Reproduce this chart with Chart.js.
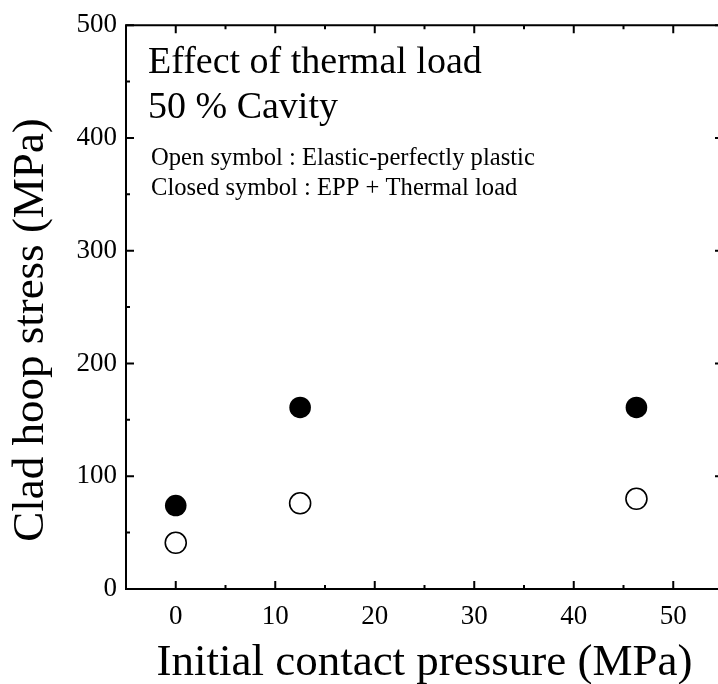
<!DOCTYPE html>
<html>
<head>
<meta charset="utf-8">
<script src="https://cdn.jsdelivr.net/npm/chart.js@4/dist/chart.umd.min.js"></script>
<style>
  html, body { margin: 0; padding: 0; background: #fff; overflow: hidden; }
  #wrap { width: 724px; height: 684px; }
</style>
</head>
<body>
<div id="wrap"><canvas id="c" width="724" height="684"></canvas></div>
<script>
// Initial contact pressure (MPa) of each case
const pressure = [0, 12.5, 46.3];
// Clad hoop stress (MPa), elastic-perfectly plastic model (open symbols)
const eppStress = [41, 76, 80];
// Clad hoop stress (MPa), EPP + thermal load (closed symbols)
const thermalStress = [74, 161, 161];

const xTickLabels = [0, 10, 20, 30, 40, 50];
const yTickLabels = [0, 100, 200, 300, 400, 500];

const FONT = '"Liberation Serif", "Times New Roman", Times, serif';

const toPoints = ys => pressure.map((x, i) => ({ x: x, y: ys[i] }));

// Frame, inward tick marks on all four sides, axis titles and notes
const framePlugin = {
  id: 'frame',
  afterDraw(chart) {
    const { ctx, chartArea: a, scales } = chart;
    const xs = scales.x, ys = scales.y;
    ctx.save();
    ctx.strokeStyle = '#000';
    ctx.lineWidth = 2;
    ctx.beginPath();
    ctx.rect(a.left, a.top, a.right - a.left, a.bottom - a.top);
    ctx.stroke();

    ctx.beginPath();
    for (let v = -5; v <= 55; v += 5) {
      const px = xs.getPixelForValue(v);
      const len = xTickLabels.includes(v) ? 8 : 4;
      ctx.moveTo(px, a.bottom); ctx.lineTo(px, a.bottom - len);
      ctx.moveTo(px, a.top); ctx.lineTo(px, a.top + len);
    }
    for (let v = 0; v <= 500; v += 50) {
      const py = ys.getPixelForValue(v);
      const len = yTickLabels.includes(v) ? 8 : 4;
      ctx.moveTo(a.left, py); ctx.lineTo(a.left + len, py);
      ctx.moveTo(a.right, py); ctx.lineTo(a.right - len, py);
    }
    ctx.stroke();

    ctx.fillStyle = '#000';
    ctx.textBaseline = 'alphabetic';
    ctx.textAlign = 'left';
    ctx.font = '38px ' + FONT;
    ctx.fillText('Effect of thermal load', 148, 73);
    ctx.fillText('50 % Cavity', 148, 118);
    ctx.font = '24.6px ' + FONT;
    ctx.fillText('Open symbol : Elastic-perfectly plastic', 151, 165);
    ctx.fillText('Closed symbol : EPP + Thermal load', 151, 195);

    ctx.textAlign = 'center';
    ctx.font = '45px ' + FONT;
    ctx.fillText('Initial contact pressure (MPa)', (a.left + a.right) / 2, 675);

    ctx.translate(43, 330);
    ctx.rotate(-Math.PI / 2);
    ctx.font = '45px ' + FONT;
    ctx.fillText('Clad hoop stress (MPa)', 0, 0);
    ctx.restore();
  }
};

new Chart(document.getElementById('c'), {
  type: 'scatter',
  data: {
    datasets: [
      {
        label: 'Elastic-perfectly plastic',
        data: toPoints(eppStress),
        pointRadius: 10.5,
        pointBackgroundColor: '#fff',
        pointBorderColor: '#000',
        pointBorderWidth: 1.6
      },
      {
        label: 'EPP + Thermal load',
        data: toPoints(thermalStress),
        pointRadius: 10.8,
        pointBackgroundColor: '#000',
        pointBorderColor: '#000',
        pointBorderWidth: 0
      }
    ]
  },
  options: {
    responsive: false,
    animation: false,
    layout: { autoPadding: false, padding: { top: 23, right: 1, left: 0, bottom: 0 } },
    plugins: { legend: { display: false }, tooltip: { enabled: false } },
    scales: {
      x: {
        type: 'linear',
        min: -5, max: 55,
        afterFit: s => { s.height = 95; },
        // tick marks are drawn inward by the frame plugin; this only spaces the labels
        grid: {
          display: true, drawOnChartArea: false, drawTicks: true,
          tickLength: 12, tickColor: 'rgba(0,0,0,0)', color: 'rgba(0,0,0,0)'
        },
        border: { display: false },
        ticks: {
          stepSize: 5,
          color: '#000',
          padding: 0,
          maxRotation: 0,
          autoSkip: false,
          font: { family: FONT, size: 27 },
          callback: v => xTickLabels.includes(v) ? String(v) : ''
        }
      },
      y: {
        type: 'linear',
        min: 0, max: 500,
        afterFit: s => { s.width = 126; },
        grid: { display: false, drawTicks: false },
        border: { display: false },
        ticks: {
          stepSize: 50,
          color: '#000',
          padding: 9,
          autoSkip: false,
          font: { family: FONT, size: 27 },
          callback: v => yTickLabels.includes(v) ? String(v) : ''
        }
      }
    }
  },
  plugins: [framePlugin]
});
</script>
</body>
</html>
